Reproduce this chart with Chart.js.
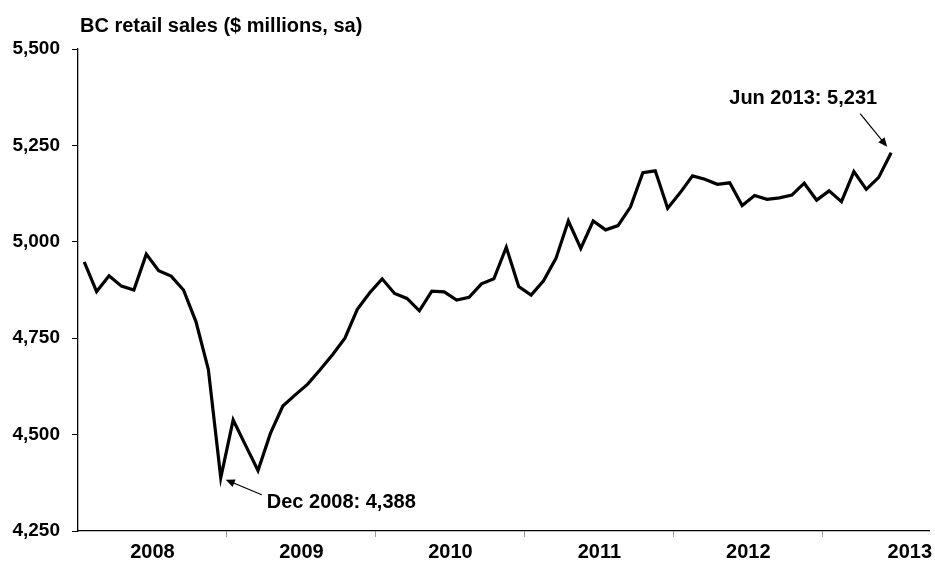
<!DOCTYPE html>
<html>
<head>
<meta charset="utf-8">
<script src="https://cdn.jsdelivr.net/npm/chart.js@4"></script>
<style>
  html, body { margin: 0; padding: 0; background: #fff; }
  #wrap { width: 935px; height: 563px; }
</style>
</head>
<body>
<div id="wrap"><canvas id="sales-chart"></canvas></div>
<script>
const chartTitle = 'BC retail sales ($ millions, sa)';
const years = ['2008', '2009', '2010', '2011', '2012', '2013'];
// index (months from Jan 2008) where each year label sits
const yearLabelAt = [5.5, 17.5, 29.5, 41.5, 53.5, 66.5];
const yearBounds = [11.5, 23.5, 35.5, 47.5, 59.5];

// monthly sales, Jan 2008 - Jun 2013
const sales = [
  4948, 4871, 4912, 4885, 4875, 4968, 4925, 4911, 4875, 4793, 4669, 4388,
  4538, 4472, 4407, 4503, 4574, 4603, 4631, 4668, 4707, 4750, 4825, 4868,
  4904, 4866, 4853, 4821, 4872, 4870, 4849, 4856, 4891, 4904, 4986, 4884,
  4862, 4899, 4957, 5054, 4983, 5054, 5031, 5042, 5090, 5179, 5184, 5087,
  5127, 5171, 5162, 5149, 5153, 5094, 5120, 5110, 5114, 5121, 5152, 5108,
  5132, 5104, 5182, 5136, 5167, 5231
];
const yTicks = [4250, 4500, 4750, 5000, 5250, 5500];
const callouts = [
  { index: 11, text: 'Dec 2008: 4,388' },
  { index: 65, text: 'Jun 2013: 5,231' }
];

const FONT = '"Liberation Sans", Arial, sans-serif';

function drawArrow(ctx, x1, y1, x2, y2) {
  const ang = Math.atan2(y2 - y1, x2 - x1);
  const head = 9;
  ctx.beginPath();
  ctx.moveTo(x1, y1);
  ctx.lineTo(x2 - Math.cos(ang) * head * 0.8, y2 - Math.sin(ang) * head * 0.8);
  ctx.stroke();
  ctx.beginPath();
  ctx.moveTo(x2, y2);
  ctx.lineTo(x2 - head * Math.cos(ang) + 4 * Math.sin(ang), y2 - head * Math.sin(ang) - 4 * Math.cos(ang));
  ctx.lineTo(x2 - head * Math.cos(ang) - 4 * Math.sin(ang), y2 - head * Math.sin(ang) + 4 * Math.cos(ang));
  ctx.closePath();
  ctx.fill();
}

// title + the two labelled points
const calloutPlugin = {
  id: 'callouts',
  afterDraw(chart) {
    const { ctx, chartArea } = chart;
    const x = chart.scales.x;
    const y = chart.scales.y;
    ctx.save();
    ctx.fillStyle = '#000';
    ctx.strokeStyle = '#000';
    ctx.lineWidth = 1.2;
    ctx.font = 'bold 20px ' + FONT;
    ctx.textBaseline = 'middle';
    ctx.textAlign = 'left';
    ctx.fillText(chartTitle, chartArea.left + 2, 26);

    const low = callouts[0];
    let px = x.getPixelForValue(low.index);
    let py = y.getPixelForValue(sales[low.index]);
    ctx.fillText(low.text, px + 46, py + 25);
    drawArrow(ctx, px + 41, py + 17, px + 5, py + 2);

    const last = callouts[1];
    px = x.getPixelForValue(last.index);
    py = y.getPixelForValue(sales[last.index]);
    ctx.textAlign = 'right';
    ctx.fillText(last.text, px - 14, py - 54);
    drawArrow(ctx, px - 31, py - 39, px - 4, py - 6);
    ctx.restore();
  }
};

const ctx = document.getElementById('sales-chart').getContext('2d');
new Chart(ctx, {
  type: 'line',
  data: {
    datasets: [{
      data: sales.map((v, i) => ({ x: i, y: v })),
      borderColor: '#000',
      borderWidth: 3.2,
      pointRadius: 0,
      tension: 0,
      fill: false
    }]
  },
  options: {
    responsive: true,
    maintainAspectRatio: false,
    animation: false,
    layout: { padding: { top: 49, right: 0, left: 1, bottom: 0 } },
    plugins: {
      legend: { display: false },
      tooltip: { enabled: false },
      title: { display: false }
    },
    scales: {
      x: {
        type: 'linear',
        min: -0.5,
        max: 68.1,
        afterFit(scale) { scale.height = 32; },
        afterBuildTicks(scale) {
          const t = yearLabelAt.map(v => ({ value: v }));
          yearBounds.forEach(v => t.push({ value: v }));
          t.sort((a, b) => a.value - b.value);
          scale.ticks = t;
        },
        ticks: {
          autoSkip: false,
          maxRotation: 0,
          padding: 3,
          color: '#000',
          font: { family: FONT, size: 20, weight: 'bold' },
          callback: v => {
            const i = yearLabelAt.indexOf(v);
            return i >= 0 ? years[i] : '';
          }
        },
        grid: {
          drawOnChartArea: false,
          tickLength: 6,
          color: c => (c.tick && yearBounds.includes(c.tick.value)) ? '#999' : 'rgba(0,0,0,0)'
        },
        border: { color: '#000', width: 1.3 }
      },
      y: {
        min: 4250,
        max: 5500,
        afterFit(scale) { scale.width = 77; },
        afterBuildTicks(scale) {
          scale.ticks = yTicks.map(v => ({ value: v }));
        },
        ticks: {
          padding: 12,
          color: '#000',
          font: { family: FONT, size: 19, weight: 'bold' },
          callback: v => v.toLocaleString('en-US')
        },
        grid: {
          drawOnChartArea: false,
          tickLength: 6,
          color: '#000'
        },
        border: { color: '#000', width: 1.3 }
      }
    }
  },
  plugins: [calloutPlugin]
});
</script>
</body>
</html>
